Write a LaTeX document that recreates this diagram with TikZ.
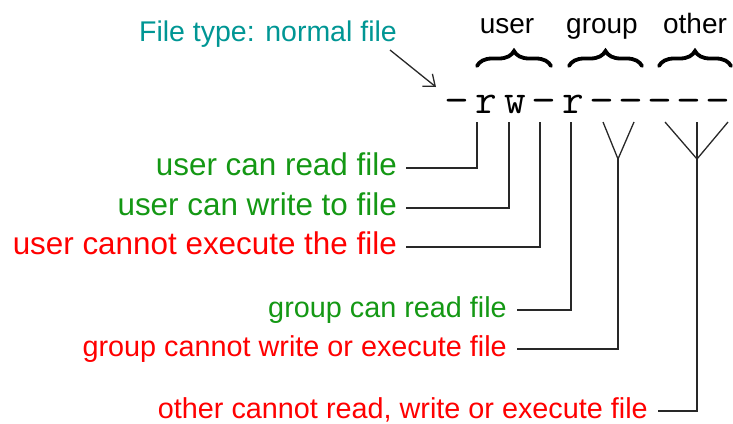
\documentclass[tikz,border=0pt]{standalone}
\usepackage{fontspec}
\setmainfont{Liberation Sans}
\usetikzlibrary{arrows.meta,decorations.pathreplacing}

\definecolor{okgreen}{RGB}{20,152,20}
\definecolor{badred}{RGB}{255,0,0}
\definecolor{typeteal}{RGB}{0,150,148}
\definecolor{wire}{RGB}{40,40,40}

% a slightly wider hyphen for the permission string
\newcommand{\widedash}{\makebox[0pt]{\scalebox{1.15}[1]{-}}}

\begin{document}
\begin{tikzpicture}[x=1pt,y=-1pt,
  permchar/.style={inner sep=0pt,anchor=base,font=\ttfamily\fontsize{42}{42}\selectfont},
  lbl/.style={inner sep=0pt,anchor=base east,font=\fontsize{31.4}{36}\selectfont},
  smalllbl/.style={lbl,font=\fontsize{28.8}{33}\selectfont},
  grouplbl/.style={inner sep=0pt,anchor=base,font=\fontsize{28}{32}\selectfont},
  wirestyle/.style={draw=wire,line width=1.3pt},
  bracestyle/.style={draw=black,line width=3.8pt,line cap=round,
    decorate,decoration={brace,amplitude=15pt}}]
\useasboundingbox (0,0) rectangle (733,423);

% permission string, one character per node
\foreach \c/\i [count=\n from 0] in {\widedash/p0,r/p1,w/p2,\widedash/p3,r/p4,
    \widedash/p5,\widedash/p6,\widedash/p7,\widedash/p8,\widedash/p9}
  \node[permchar] (\i) at (457+29*\n,113) {\c};

% tops of the wires below the characters
\coordinate (t1) at (477,122);
\coordinate (t2) at (509,122);
\coordinate (t3) at (540,122);
\coordinate (t4) at (571,122);
\coordinate (t5) at (603,122);
\coordinate (t6) at (634,122);
\coordinate (t7) at (665,122);
\coordinate (t8) at (697,122);
\coordinate (t9) at (728,122);
\coordinate (gy) at (618,159);
\coordinate (oy) at (697,159);

% corners where the wires turn towards the labels
\coordinate (k1) at (477,168);
\coordinate (k2) at (509,208);
\coordinate (k3) at (540,247);
\coordinate (k4) at (571,310);
\coordinate (k5) at (618,349);
\coordinate (k6) at (697,411);

% labels
\node[lbl,text=okgreen]      (l1) at (397,175.7) {user can read file};
\node[lbl,text=okgreen]      (l2) at (397,215.7) {user can write to file};
\node[lbl,text=badred]       (l3) at (397,254.7) {user cannot execute the file};
\node[smalllbl,text=okgreen] (l4) at (507,317.3) {group can read file};
\node[smalllbl,text=badred]  (l5) at (507,356.3) {group cannot write or execute file};
\node[smalllbl,text=badred]  (l6) at (648,418) {other cannot read, write or execute file};

\coordinate (s1) at (406,168);
\coordinate (s2) at (406,208);
\coordinate (s3) at (406,247);
\coordinate (s4) at (517,310);
\coordinate (s5) at (517,349);
\coordinate (s6) at (658,411);

\draw[wirestyle] (s1) -- (k1) -- (t1);
\draw[wirestyle] (s2) -- (k2) -- (t2);
\draw[wirestyle] (s3) -- (k3) -- (t3);
\draw[wirestyle] (s4) -- (k4) -- (t4);
\draw[wirestyle] (s5) -- (k5) -- (gy);
\draw[wirestyle] (t5) -- (gy) -- (t6);
\draw[wirestyle] (s6) -- (k6) -- (t8);
\draw[wirestyle] (t7) -- (oy) -- (t9);

% file type note
\node[lbl,text=typeteal,font=\fontsize{28.5}{32}\selectfont] (ft) at (397,41.5) {File type: normal file};
\coordinate (fa) at (390,50);
\coordinate (fb) at (436,87);
\draw[wirestyle,-{Straight Barb[length=10pt,width=16pt]}] (fa) -- (fb);

% class braces and names
\draw[bracestyle] (477,66) -- (551,66);
\draw[bracestyle] (569,66) -- (642,66);
\draw[bracestyle] (659,66) -- (731,66);
\node[grouplbl] (gu) at (507,33) {user};
\node[grouplbl] (gg) at (602,33) {group};
\node[grouplbl] (go) at (695,33) {other};
\end{tikzpicture}
\end{document}
